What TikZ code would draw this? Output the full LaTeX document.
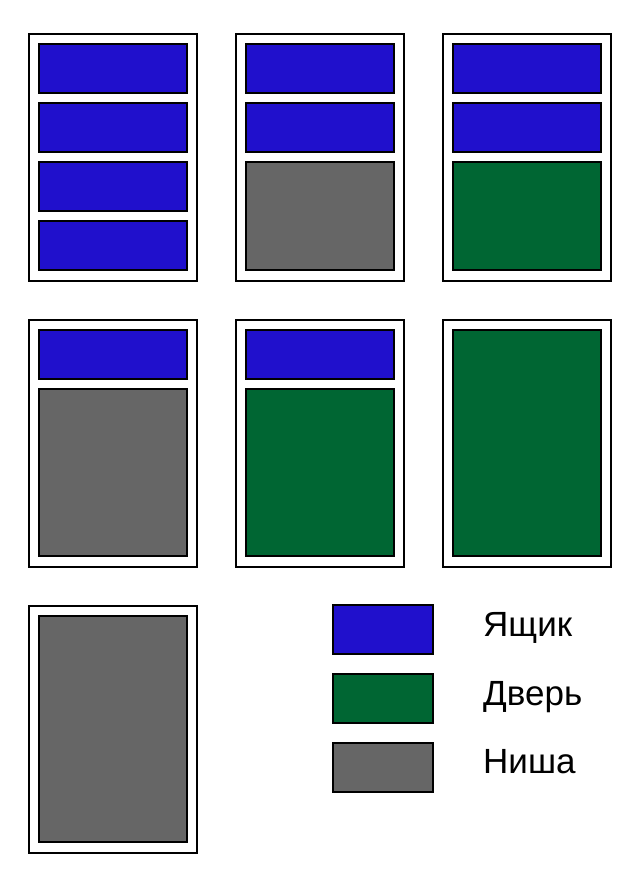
\documentclass[tikz,border=0pt]{standalone}
\usepackage{fontspec}
\setmainfont{Liberation Sans}
\usepackage{tikz}
\usetikzlibrary{positioning}
\definecolor{drawerblue}{RGB}{32,16,204}
\definecolor{doorgreen}{RGB}{0,102,51}
\definecolor{nichegray}{RGB}{102,102,102}

\begin{document}
\begin{tikzpicture}[%
  x=1pt,
  y=-1pt,
  frame/.style={
    draw=black,
    line width=1.6pt,
    fill=white},
  part/.style={
    draw=black,
    line width=1.3pt},
  drawer/.style={part, fill=drawerblue},
  door/.style={part, fill=doorgreen},
  niche/.style={part, fill=nichegray},
  legtext/.style={
    anchor=base west,
    inner sep=0pt,
    font=\fontsize{35}{40}\selectfont}
  ]
  \useasboundingbox[fill=white] (0,0) rectangle (640,886);
  %% Row 1
  \draw[frame] (29,34) rectangle ++(168,247);
  \draw[drawer] (39,44) rectangle ++(148,49);
  \draw[drawer] (39,103) rectangle ++(148,49);
  \draw[drawer] (39,162) rectangle ++(148,49);
  \draw[drawer] (39,221) rectangle ++(148,49);

  \draw[frame] (236,34) rectangle ++(168,247);
  \draw[drawer] (246,44) rectangle ++(148,49);
  \draw[drawer] (246,103) rectangle ++(148,49);
  \draw[niche] (246,162) rectangle ++(148,108);

  \draw[frame] (443,34) rectangle ++(168,247);
  \draw[drawer] (453,44) rectangle ++(148,49);
  \draw[drawer] (453,103) rectangle ++(148,49);
  \draw[door] (453,162) rectangle ++(148,108);
  %% Row 2
  \draw[frame] (29,320) rectangle ++(168,247);
  \draw[drawer] (39,330) rectangle ++(148,49);
  \draw[niche] (39,389) rectangle ++(148,167);

  \draw[frame] (236,320) rectangle ++(168,247);
  \draw[drawer] (246,330) rectangle ++(148,49);
  \draw[door] (246,389) rectangle ++(148,167);

  \draw[frame] (443,320) rectangle ++(168,247);
  \draw[door] (453,330) rectangle ++(148,226);
  %% Row 3
  \draw[frame] (29,606) rectangle ++(168,247);
  \draw[niche] (39,616) rectangle ++(148,226);
  %% Legend
  \draw[drawer] (333,605) rectangle ++(100,49);
  \draw[door] (333,674) rectangle ++(100,49);
  \draw[niche] (333,743) rectangle ++(100,49);
  \node[legtext] (lbox) at (483,636) {Ящик};
  \node[legtext] (ldoor) at (483,705) {Дверь};
  \node[legtext] (lniche) at (483,773) {Ниша};
\end{tikzpicture}
\end{document}
